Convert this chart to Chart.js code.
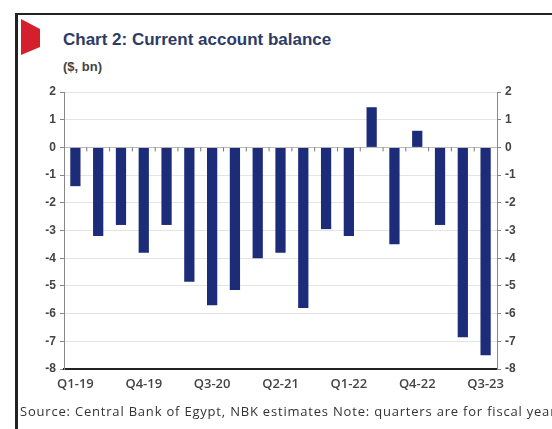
<!DOCTYPE html>
<html>
<head>
<meta charset="utf-8">
<script src="https://cdn.jsdelivr.net/npm/chart.js@4"></script>
<style>
  html, body { margin: 0; padding: 0; background: #fff; width: 552px; height: 429px; overflow: hidden; }
  .frame { position: absolute; left: 15px; top: 13px; width: 600px; height: 500px; border-left: 3px solid #222; border-top: 2px solid #222; }
  .flag { position: absolute; left: 21px; top: 19px; width: 19px; height: 36px; background: #d61f2c;
          clip-path: polygon(0 0, 100% 28%, 100% 78%, 0 100%); }
  .title { position: absolute; left: 63px; top: 30px; font: bold 17px "Liberation Sans", Arial, sans-serif; color: #2c3b66; white-space: nowrap; }
  .sub { position: absolute; left: 63px; top: 59px; font: bold 13px "Liberation Sans", Arial, sans-serif; color: #444; }
  .source { position: absolute; left: 20px; top: 402px; font: 13px "Open Sans", sans-serif; letter-spacing: 0.8px; color: #333; white-space: nowrap; }
  canvas { position: absolute; left: 0; top: 0; }
</style>
</head>
<body>
<div class="frame"></div>
<div class="flag"></div>
<div class="title">Chart 2: Current account balance</div>
<div class="sub">($, bn)</div>
<canvas id="chart" width="552" height="429"></canvas>
<div class="source">Source: Central Bank of Egypt, NBK estimates Note: quarters are for fiscal year</div>
<script>
const quarters = ["Q1-19","Q2-19","Q3-19","Q4-19","Q1-20","Q2-20","Q3-20","Q4-20","Q1-21","Q2-21",
                  "Q3-21","Q4-21","Q1-22","Q2-22","Q3-22","Q4-22","Q1-23","Q2-23","Q3-23"];
const balance = [-1.4, -3.2, -2.8, -3.8, -2.8, -4.85, -5.7, -5.15, -4.0, -3.8,
                 -5.8, -2.95, -3.2, 1.45, -3.5, 0.6, -2.8, -6.85, -7.5];
const yTicks = [2, 1, 0, -1, -2, -3, -4, -5, -6, -7, -8];

// small tick marks on the zero line between quarters
const zeroTicks = {
  id: 'zeroTicks',
  afterDatasetsDraw(chart) {
    const x = chart.scales.x, y = chart.scales.y, ctx = chart.ctx;
    const y0 = y.getPixelForValue(0);
    ctx.save();
    ctx.strokeStyle = '#777';
    ctx.lineWidth = 1;
    for (let i = 0; i < quarters.length - 1; i++) {
      const px = (x.getPixelForValue(i) + x.getPixelForValue(i + 1)) / 2;
      ctx.beginPath();
      ctx.moveTo(px, y0);
      ctx.lineTo(px, y0 + 4);
      ctx.stroke();
    }
    ctx.restore();
  }
};

const tickFont = { family: "'Liberation Sans', Arial, sans-serif", size: 12, weight: 'bold' };
const xFont = { family: "'Open Sans', sans-serif", size: 13, weight: '600' };

new Chart(document.getElementById('chart').getContext('2d'), {
  type: 'bar',
  data: {
    labels: quarters,
    datasets: [{
      data: balance,
      backgroundColor: '#1d2c79',
      barPercentage: 0.45,
      categoryPercentage: 1.0
    }]
  },
  options: {
    responsive: false,
    animation: false,
    layout: { padding: { left: 20, right: 20, top: 92, bottom: 34 } },
    plugins: { legend: { display: false }, tooltip: { enabled: false } },
    scales: {
      x: {
        offset: true,
        grid: { display: false, drawTicks: false },
        border: { color: '#222', width: 2 },
        ticks: {
          autoSkip: false, maxRotation: 0, color: '#444', font: xFont, padding: 7,
          callback: (v, i) => (i % 3 === 0 ? quarters[i] : '')
        },
        afterFit: s => { s.height = 26; }
      },
      y: {
        position: 'left',
        min: -8, max: 2,
        afterBuildTicks: s => { s.ticks = yTicks.map(v => ({ value: v })); },
        grid: { color: c => (c.tick.value === 0 ? '#bbb' : '#e4e4e4'), tickLength: 4, tickColor: '#888' },
        border: { color: '#888' },
        ticks: { color: '#444', font: tickFont, padding: 4 },
        afterFit: s => { s.width = 44; }
      },
      y2: {
        position: 'right',
        min: -8, max: 2,
        afterBuildTicks: s => { s.ticks = yTicks.map(v => ({ value: v })); },
        grid: { drawOnChartArea: false, tickLength: 4, tickColor: '#888' },
        border: { color: '#888' },
        ticks: { color: '#444', font: tickFont, padding: 4 },
        afterFit: s => { s.width = 35; }
      }
    }
  },
  plugins: [zeroTicks]
});
</script>
</body>
</html>
